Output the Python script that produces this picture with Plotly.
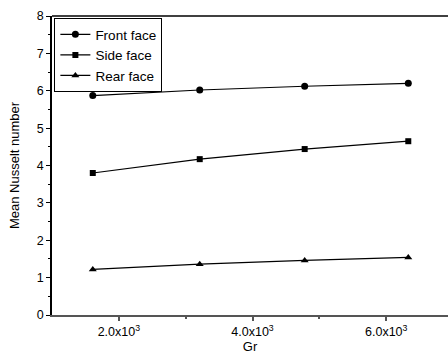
import plotly.graph_objects as go

gr = [1610, 3210, 4780, 6330]
front = [5.87, 6.02, 6.12, 6.20]
side = [3.80, 4.17, 4.44, 4.65]
rear = [1.22, 1.36, 1.46, 1.54]

series = [("Front face", front, "circle", 7),
          ("Side face", side, "square", 6),
          ("Rear face", rear, "triangle-up", 7)]

xtick_vals = [2000, 4000, 6000]
xtick_text = ["2.0x10<sup>3</sup>", "4.0x10<sup>3</sup>", "6.0x10<sup>3</sup>"]

fig = go.Figure()
for name, vals, sym, sz in series:
    fig.add_trace(go.Scatter(x=gr, y=vals, name=name, mode="lines+markers",
                             line=dict(color="black", width=1.2),
                             marker=dict(symbol=sym, size=sz, color="black")))

fig.update_layout(
    width=448, height=358,
    margin=dict(l=52, r=0, t=16, b=43),
    paper_bgcolor="white", plot_bgcolor="white",
    font=dict(family="Liberation Sans, Arial, sans-serif", size=11, color="black"),
    showlegend=True,
    legend=dict(x=0.006, y=0.993, xanchor="left", yanchor="top",
                bordercolor="black", borderwidth=1, bgcolor="white",
                font=dict(size=13.5), tracegroupgap=0, itemwidth=30),
    xaxis=dict(range=[1000, 6924], tickvals=xtick_vals, ticktext=xtick_text,
               showline=True, linecolor="#555", linewidth=2, mirror=False,
               ticks="outside", ticklen=4, tickcolor="#555", tickwidth=1.5,
               minor=dict(tickvals=[3000, 5000], ticks="outside", ticklen=2,
                          tickcolor="#555"),
               showgrid=False, zeroline=False,
               title=dict(text="Gr", standoff=0, font=dict(size=13)),
               tickfont=dict(size=12.5)),
    yaxis=dict(range=[0, 8], dtick=1, showline=True, linecolor="black", linewidth=1.5,
               ticks="outside", ticklen=4, tickcolor="black",
               minor=dict(dtick=0.5, ticks="outside", ticklen=2, tickcolor="black"),
               showgrid=False, zeroline=False,
               title=dict(text="Mean Nusselt number", standoff=14, font=dict(size=13)),
               tickfont=dict(size=12.5)),
)
# top border line
fig.add_shape(type="line", xref="paper", yref="paper", x0=0, x1=1, y0=1, y1=1,
              line=dict(color="black", width=1.5))

fig.write_html("out.html")
